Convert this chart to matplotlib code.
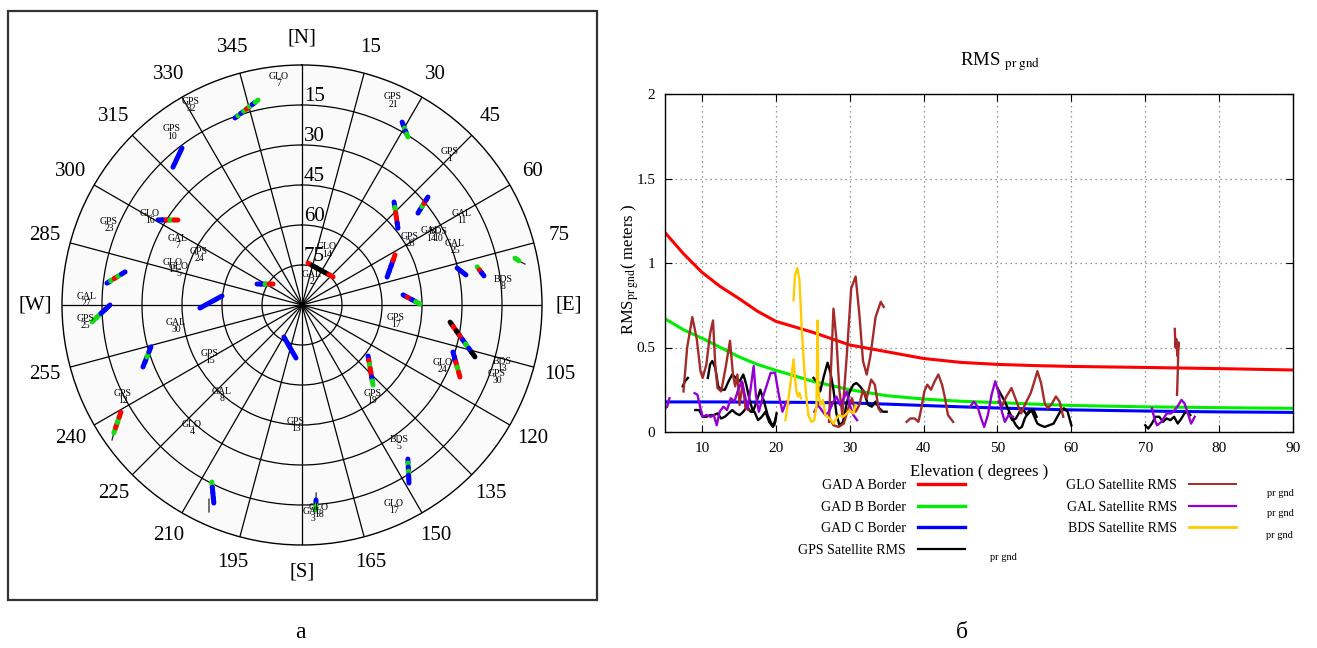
import numpy as np
import matplotlib
matplotlib.use('Agg')
import matplotlib.pyplot as plt
from matplotlib.patches import Rectangle
from matplotlib.lines import Line2D

plt.rcParams['font.family'] = ['Liberation Serif', 'DejaVu Serif']
plt.rcParams['mathtext.fontset'] = 'stix'

W, H = 1317, 648

# ===================== sky plot data =====================
az_ticks = list(range(0, 360, 15))
az_tick_labels = ['[N]', '15', '30', '45', '60', '75', '[E]', '105', '120', '135', '150', '165',
                  '[S]', '195', '210', '225', '240', '255', '[W]', '285', '300', '315', '330', '345']
elev_rings = [15, 30, 45, 60, 75]

sat_labels = ['GLO\n7', 'GPS\n32', 'GPS\n10', 'GPS\n21', 'GPS\n1', 'GAL\n11', 'GAL\n25', 'GPS\n28',
              'GAL\n14', 'BDS\n10', 'GLO\n14', 'GAL\n2', 'BDS\n8', 'GAL\n7', 'GPS\n24', 'GLO\n16',
              'GPS\n23', 'GLO\n15', 'GLO\n5', 'GAL\n27', 'GPS\n25', 'GAL\n30', 'GPS\n17', 'GPS\n15',
              'GPS\n12', 'GAL\n8', 'GLO\n4', 'GPS\n13', 'GPS\n19', 'GLO\n24', 'BDS\n13', 'GPS\n30',
              'BDS\n5', 'GLO\n17', 'GLO\n18', 'GAL\n3']
sat_az = [354, 331, 323, 24, 44.6, 61.2, 69.2, 59, 61.3, 62.8, 24.4, 20.3, 83.7, 296.9, 295.9, 300.1,
          292.5, 286.8, 285.9, 271.3, 265.5, 260.5, 99.7, 240.5, 242.8, 221.6, 221.8, 182.9, 142.7, 113.5,
          106.7, 110.3, 144.9, 155.5, 175.3, 177]
sat_el = [5.2, 4.2, 9, 6, 11, 21.5, 28.6, 42.7, 35, 32.6, 67.5, 79.2, 14.2, 37.8, 47.1, 24.1,
          11.7, 39.5, 42, 9.3, 8.7, 42.1, 54.2, 50.4, 14.5, 44.8, 28.1, 45, 46.6, 32.7,
          11.7, 12.0, 26.7, 6.8, 12.5, 11.1]

# satellite passes: azimuth / elevation of the path and colour of each piece along it
track_az = [[340.3, 347.9], [316.9, 322.6], [28.7, 32.2], [300.6, 304.4], [41.8, 51.3],
            [51.6, 49.4], [71.8, 61.7], [76.6, 79.6], [77.7, 80.9], [77.6, 78.5],
            [8.1, 27.2, 47.9], [295.0, 305.9], [276.4, 280.6], [268.3, 276.4], [84.3, 89.5],
            [265.4, 270.0], [248.7, 254.5], [209.4, 186.5], [127.7, 138.4], [96.6, 106.7],
            [107.3, 114.5], [235.8, 239.4], [145.5, 149.0], [207.0, 204.0], [175.9, 176.1]]
track_el = [[15.5, 11.4], [19.2, 15.9], [11.8, 15.5], [27.3, 33.6], [38.2, 43.9],
            [34.5, 27.8], [56.4, 50.4], [30.2, 27.5], [22.8, 20.9], [8.2, 7.0],
            [74.1, 75.2, 74.3], [71.4, 76.6], [16.4, 22.5], [51.7, 59.8], [51.9, 45.75],
            [11.0, 18.0], [26.0, 31.2], [76.2, 70.0], [58.7, 49.9], [34.1, 22.3],
            [30.7, 24.9], [4.7, 11.1], [19.9, 12.1], [15.5, 8.7], [16.7, 12.9]]
track_colors = ['BGBGRGBG', 'B', 'BBGBG', 'BBRGR', 'BGRRB',
                'BBGRB', 'BBBR', 'B', 'GRB', 'G',
                'RKKKKR', 'BBGR', 'BGRGB', 'B', 'BRBG',
                'GGBB', 'BBGB', 'B', 'BRGRRBG', 'KRKRBGBK',
                'BBRGR', 'GRGR', 'BGBGBB', 'GBBB', 'BG']

# thin leads at the ends of some passes
tail_az = [[78.5, 79.6], [234.6, 235.8], [205.6, 204.2], [175.7, 175.9]]
tail_el = [[7.0, 5.0], [2.6, 4.7], [9.3, 4.9], [19.3, 16.7]]

# ===================== RMS data =====================
elev_border = [5, 7.5, 10, 12.5, 15, 17.5, 20, 25, 30, 35, 40, 45, 50, 55, 60, 70, 80, 90]
gad_a = [1.18, 1.055, 0.945, 0.86, 0.79, 0.715, 0.655, 0.59, 0.515, 0.475, 0.435, 0.412,
         0.40, 0.393, 0.388, 0.382, 0.375, 0.367]
gad_b = [0.67, 0.605, 0.555, 0.50, 0.445, 0.40, 0.365, 0.30, 0.25, 0.215, 0.195, 0.182,
         0.174, 0.165, 0.157, 0.149, 0.144, 0.14]
gad_c = [0.178, 0.178, 0.178, 0.178, 0.177, 0.177, 0.176, 0.175, 0.172, 0.165, 0.157, 0.149,
         0.142, 0.136, 0.131, 0.124, 0.119, 0.116]

gps_x = [[7.4, 7.7, 8.1],
         [10.8, 11.1, 11.4, 11.8, 12.2, 12.6, 13.1, 13.6, 14.1, 14.6, 15.1, 15.6, 16.0, 16.4, 16.9,
          17.4, 17.9, 18.4, 18.9, 19.4, 19.8, 20.1],
         [9.1, 9.6, 10.1, 10.6, 11.1, 11.6, 12.1, 12.6, 13.1, 13.6, 14.1, 14.6, 15.1, 15.6, 16.1,
          16.6, 17.1, 17.6, 18.1, 18.6, 19.1, 19.6, 20.0],
         [25.1, 25.5, 26.0, 26.5, 27.0, 27.4, 27.8, 28.2, 28.6, 29.1, 29.6, 30.0, 30.5, 30.9, 31.4,
          31.9, 32.5, 33.0, 33.5, 34.0, 34.5, 35.0],
         [50.0, 50.5, 51.0, 51.5, 52.0, 52.5, 52.9, 53.3, 53.7, 54.2, 54.6, 55.0, 55.4, 55.8, 56.4,
          57.0, 57.6, 58.1, 58.6, 59.0, 59.5, 60.0],
         [51.5, 52.0, 52.5, 53.0, 53.5, 54.0, 54.4, 54.9, 55.3],
         [70.0, 70.4, 70.9, 71.4, 71.9, 72.4, 72.9, 73.4, 73.9, 74.4, 74.9, 75.3, 75.7, 76.1]]
gps_y = [[0.27, 0.30, 0.32],
         [0.32, 0.40, 0.42, 0.38, 0.27, 0.25, 0.25, 0.30, 0.34, 0.32, 0.30, 0.34, 0.28, 0.20, 0.12,
          0.18, 0.25, 0.18, 0.10, 0.05, 0.04, 0.11],
         [0.13, 0.13, 0.09, 0.09, 0.10, 0.10, 0.11, 0.08, 0.09, 0.11, 0.13, 0.11, 0.10, 0.12, 0.15,
          0.12, 0.12, 0.07, 0.09, 0.12, 0.06, 0.03, 0.08],
         [0.32, 0.30, 0.24, 0.33, 0.41, 0.35, 0.25, 0.11, 0.04, 0.06, 0.17, 0.24, 0.28, 0.29, 0.27,
          0.24, 0.16, 0.15, 0.18, 0.14, 0.12, 0.12],
         [0.26, 0.22, 0.18, 0.13, 0.08, 0.04, 0.02, 0.03, 0.08, 0.12, 0.13, 0.09, 0.05, 0.04, 0.03,
          0.04, 0.05, 0.09, 0.13, 0.14, 0.12, 0.04],
         [0.11, 0.07, 0.08, 0.12, 0.13, 0.10, 0.12, 0.13, 0.09],
         [0.04, 0.02, 0.05, 0.09, 0.09, 0.06, 0.08, 0.07, 0.09, 0.05, 0.08, 0.11, 0.12, 0.10]]

glo_x = [[7.5, 8.0, 8.7, 9.3, 9.8, 10.1, 10.6, 11.1, 11.5, 11.8, 12.1, 12.6, 13.2, 13.8, 14.2,
          14.5, 14.8, 15.1, 15.5, 15.9, 16.3],
         [27.2, 27.4, 27.8, 28.2, 28.6, 29.0, 29.6, 30.2, 30.8, 31.3, 31.8, 32.3, 32.8, 33.5, 34.2, 34.6],
         [27.3, 27.8, 28.5, 29.2, 29.8, 30.3, 30.8, 31.3, 31.8, 32.3, 32.9, 33.4, 33.9, 34.2],
         [37.7, 38.2, 38.8, 39.3, 39.7, 40.1, 40.5, 41.0, 41.5, 42.0, 42.5, 42.9, 43.3, 44.0],
         [50.1, 50.6, 51.2, 51.9, 52.5, 53.2, 53.8, 54.5, 55.0, 55.4, 55.9, 56.4, 56.8, 57.4, 57.9,
          58.4, 58.9],
         [74.0, 74.1, 74.2, 74.35, 74.5, 74.4, 74.3]]
glo_y = [[0.24, 0.50, 0.68, 0.55, 0.36, 0.32, 0.40, 0.58, 0.66, 0.40, 0.26, 0.24, 0.38, 0.54, 0.34,
          0.27, 0.34, 0.16, 0.29, 0.14, 0.13],
         [0.06, 0.30, 0.73, 0.55, 0.25, 0.10, 0.45, 0.85, 0.92, 0.70, 0.42, 0.34, 0.45, 0.68, 0.77, 0.74],
         [0.08, 0.04, 0.03, 0.05, 0.14, 0.20, 0.12, 0.16, 0.25, 0.20, 0.31, 0.28, 0.14, 0.12],
         [0.06, 0.08, 0.08, 0.06, 0.14, 0.24, 0.28, 0.25, 0.30, 0.34, 0.28, 0.20, 0.10, 0.06],
         [0.18, 0.15, 0.21, 0.26, 0.19, 0.11, 0.17, 0.23, 0.30, 0.36, 0.29, 0.17, 0.14, 0.17, 0.21,
          0.18, 0.09],
         [0.61, 0.50, 0.55, 0.45, 0.53, 0.35, 0.22]]

gal_x = [[5.0, 5.3, 5.6],
         [9.0, 9.4, 9.8, 10.1, 10.6, 11.2, 11.6, 12.0, 12.4, 12.9, 13.4, 13.9, 14.4, 14.9, 15.4,
          15.8, 16.2, 16.6, 17.0, 17.3, 17.7, 18.2, 18.8, 19.3, 19.9, 20.4, 20.9, 21.4, 21.8],
         [25.2, 25.7, 26.2, 26.7, 27.2, 27.7, 28.2, 28.7, 29.2, 29.6, 30.0, 30.5, 31.0],
         [46.3, 46.8, 47.3, 47.8, 48.2, 48.7, 49.2, 49.7, 50.1, 50.6, 51.0, 51.5, 52.1],
         [70.9, 71.3, 71.6, 72.2, 72.9, 73.5, 74.0, 74.5, 74.9, 75.3, 75.7, 76.2, 76.7]]
gal_y = [[0.14, 0.15, 0.20],
         [0.23, 0.22, 0.14, 0.09, 0.10, 0.09, 0.10, 0.04, 0.12, 0.15, 0.13, 0.20, 0.18, 0.25, 0.30,
          0.22, 0.14, 0.26, 0.39, 0.22, 0.12, 0.20, 0.28, 0.35, 0.35, 0.22, 0.12, 0.18, 0.17],
         [0.12, 0.16, 0.13, 0.10, 0.12, 0.17, 0.21, 0.16, 0.20, 0.24, 0.16, 0.10, 0.07],
         [0.15, 0.18, 0.15, 0.08, 0.03, 0.10, 0.22, 0.30, 0.24, 0.12, 0.06, 0.10, 0.09],
         [0.14, 0.07, 0.04, 0.06, 0.11, 0.11, 0.13, 0.16, 0.19, 0.17, 0.12, 0.05, 0.09]]

bds_x = [[22.4, 22.6, 22.9, 23.2, 23.5, 23.8, 24.1, 24.4, 24.8, 25.2, 25.5, 25.65, 25.75, 26.0,
          26.4, 26.7, 27.3, 27.8, 28.5, 29.1, 29.6, 30.0, 30.5, 30.8],
         [21.3, 21.6, 21.9, 22.2, 22.4, 22.6, 22.8, 23.0, 23.2, 23.4]]
bds_y = [[0.78, 0.93, 0.97, 0.90, 0.62, 0.40, 0.22, 0.10, 0.06, 0.07, 0.15, 0.66, 0.25, 0.16,
          0.19, 0.10, 0.08, 0.05, 0.10, 0.09, 0.11, 0.13, 0.11, 0.16],
         [0.07, 0.16, 0.26, 0.36, 0.43, 0.32, 0.24, 0.21, 0.23, 0.20]]

fig = plt.figure(figsize=(W / 100, H / 100), dpi=100)

# ===================== left: sky plot =====================
ax = fig.add_axes([62 / W, (H - 305 - 240) / H, 480 / W, 480 / H], projection='polar')
ax.set_theta_zero_location('N')
ax.set_theta_direction(-1)
ax.set_ylim(0, 90)
ax.set_facecolor('#fafafa')
ax.set_xticks(np.radians(az_ticks))
ax.set_xticklabels([])
ax.set_yticks([90 - e for e in elev_rings])
ax.set_yticklabels([])
ax.grid(True, color='black', lw=0.9, ls='-')
ax.spines['polar'].set_linewidth(1.0)
ax.tick_params(length=0)

for a, lab in zip(az_ticks, az_tick_labels):
    ax.text(np.radians(a), 100, lab, ha='center', va='center', fontsize=15, clip_on=False)

for e in elev_rings:
    ax.annotate(str(e), xy=(0, 90 - e), xytext=(1.5, -1), textcoords='offset points',
                ha='left', va='bottom', fontsize=15)

for lab, a, e in zip(sat_labels, sat_az, sat_el):
    ax.text(np.radians(a), 90 - e, lab, ha='center', va='center', fontsize=7, linespacing=0.8)

colour_of = {'B': '#0000ff', 'G': '#11dd11', 'R': '#ff0000', 'K': '#000000'}


def draw_track(az, el, codes):
    # cut the pass into equal pieces along a straight path, one colour each
    th = np.radians(az)
    r = 90 - np.asarray(el, dtype=float)
    x, y = r * np.sin(th), r * np.cos(th)
    s = np.r_[0, np.cumsum(np.hypot(np.diff(x), np.diff(y)))]
    cuts = np.linspace(0, s[-1], len(codes) + 1)
    px, py = np.interp(cuts, s, x), np.interp(cuts, s, y)
    for k, c in enumerate(codes):
        xx, yy = px[k:k + 2], py[k:k + 2]
        ax.plot(np.arctan2(xx, yy), np.hypot(xx, yy), color=colour_of[c], lw=3.6,
                solid_capstyle='round')


for az, el in zip(tail_az, tail_el):
    ax.plot(np.radians(az), [90 - e for e in el], color='#222222', lw=0.9)
for az, el, codes in zip(track_az, track_el, track_colors):
    draw_track(az, el, codes)

fig.add_artist(Rectangle((8 / W, (H - 600) / H), 589 / W, 589 / H, transform=fig.transFigure,
                         fill=False, ec='#333333', lw=1.6))

# ===================== right: RMS vs elevation =====================
ax2 = fig.add_axes([665 / W, (H - 432) / H, 628 / W, 338 / H])
ax2.plot(elev_border, gad_a, color='#ff0000', lw=2.2)
ax2.plot(elev_border, gad_b, color='#00ee00', lw=2.2)
ax2.plot(elev_border, gad_c, color='#0000ff', lw=2.2)
for xs, ys in zip(gps_x, gps_y):
    ax2.plot(xs, ys, color='black', lw=1.7)
for xs, ys in zip(glo_x, glo_y):
    ax2.plot(xs, ys, color='#a52a2a', lw=1.7)
for xs, ys in zip(gal_x, gal_y):
    ax2.plot(xs, ys, color='#9400d3', lw=1.7)
for xs, ys in zip(bds_x, bds_y):
    ax2.plot(xs, ys, color='#ffcc00', lw=1.7)

ax2.set_xlim(5, 90)
ax2.set_ylim(0, 2)
ax2.set_xticks(range(10, 91, 10))
ax2.set_yticks([0, 0.5, 1, 1.5, 2])
ax2.set_yticklabels(['0', '0.5', '1', '1.5', '2'])
ax2.tick_params(direction='in', length=5, top=True, right=True, labelsize=11, pad=7)
ax2.grid(True, color='#777777', ls=(0, (1, 3)), lw=0.9)
for sp in ax2.spines.values():
    sp.set_linewidth(1.0)

ax2.set_xlabel('Elevation ( degrees )', fontsize=12)
ax2.xaxis.set_label_coords(0.5, -0.095)
ax2.set_ylabel(r'RMS$_{\mathrm{pr\ gnd}}$( meters )', fontsize=12)
ax2.yaxis.set_label_coords(-0.038, 0.48)
fig.text(1000 / W, (H - 62) / H, r'RMS $_{\mathrm{pr\ gnd}}$', ha='center', va='center', fontsize=13.5)

handles = [Line2D([], [], color='#ff0000', lw=2.4), Line2D([], [], color='#00ee00', lw=2.4),
           Line2D([], [], color='#0000ff', lw=2.4), Line2D([], [], color='black', lw=1.6),
           Line2D([], [], color='#a52a2a', lw=1.4), Line2D([], [], color='#9400d3', lw=1.6),
           Line2D([], [], color='#ffcc00', lw=2.0)]
labels = ['GAD A Border', 'GAD B Border', 'GAD C Border', 'GPS Satellite RMS',
          'GLO Satellite RMS', 'GAL Satellite RMS', 'BDS Satellite RMS']
ax2.legend(handles, labels, ncol=2, markerfirst=False, frameon=False, fontsize=10,
           handlelength=3.4, handletextpad=0.85, columnspacing=7.3, labelspacing=0.62,
           loc='upper left', bbox_to_anchor=(798 / W, (H - 479) / H),
           bbox_transform=fig.transFigure, borderpad=0, borderaxespad=0)

for px, py in [(1003, 557), (1280, 493), (1280, 513), (1279, 535)]:
    fig.text(px / W, (H - py) / H, 'pr gnd', ha='center', va='center', fontsize=7.5)

fig.text(300 / W, (H - 632) / H, 'а', ha='center', va='center', fontsize=17)
fig.text(962 / W, (H - 632) / H, 'б', ha='center', va='center', fontsize=17)

fig.savefig('out.png', dpi=100)
